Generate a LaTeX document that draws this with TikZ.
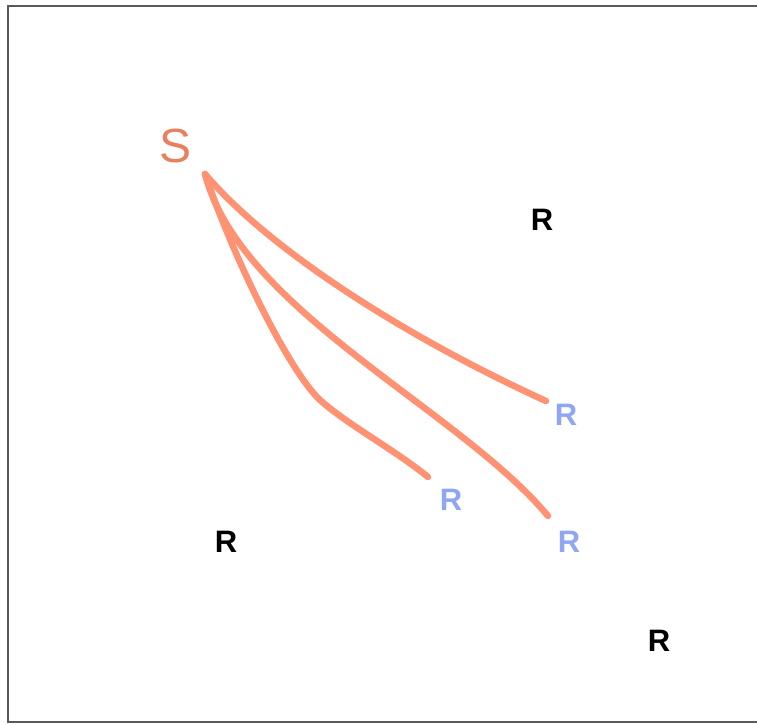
\documentclass[tikz,border=0pt]{standalone}
\usepackage{fontspec}
\setmainfont{Liberation Sans}
\definecolor{srccol}{HTML}{E8805E}
\definecolor{pathcol}{HTML}{FF9272}
\definecolor{hitcol}{HTML}{8FA6F5}
\begin{document}
\begin{tikzpicture}[x=1pt,y=-1pt,
  frame/.style={draw=black!65,line width=2pt},
  src/.style={text=srccol,font=\fontsize{48}{48}\selectfont,inner sep=0pt},
  rx/.style={text=black,font=\bfseries\fontsize{31}{31}\selectfont,inner sep=0pt},
  rxhit/.style={text=hitcol,font=\bfseries\fontsize{31}{31}\selectfont,inner sep=0pt},
  ray/.style={draw=pathcol,line width=6.5pt,line cap=round}]
\useasboundingbox (0,0) rectangle (757,724);
\draw[frame] (757,6) -- (8,6) -- (8,722) -- (757,722);
\node[src] (S) at (176,146) {S};
\node[rx] (R1) at (542,220) {R};
\node[rx] (R2) at (226,542) {R};
\node[rx] (R3) at (659,641) {R};
\node[rxhit] (H1) at (566,415) {R};
\node[rxhit] (H2) at (451,500) {R};
\node[rxhit] (H3) at (569,542) {R};
\coordinate (s0) at (205,174);
\coordinate (e1) at (546,401);
\coordinate (e2) at (428,477);
\coordinate (e3) at (548,516);
\draw[ray] (s0) .. controls (265,245) and (395,332) .. (e1);
\draw[ray] (s0) .. controls (240,310) and (460,410) .. (e3);
\draw[ray] (s0) .. controls (235,262) and (290,372) .. (320,400) .. controls (348,425) and (395,450) .. (e2);
\end{tikzpicture}
\end{document}
